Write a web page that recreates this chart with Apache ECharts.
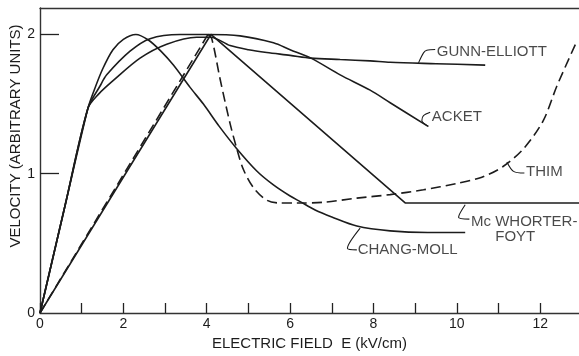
<!DOCTYPE html>
<html><head><meta charset="utf-8">
<script src="https://cdn.jsdelivr.net/npm/echarts@6/dist/echarts.min.js"></script>
<style>html,body{margin:0;padding:0;background:#fff}#c{width:579px;height:356px}</style>
</head><body><div id="c"></div>
<script>
// ---- axis ticks ----
const xTicks = [0,1,2,3,4,5,6,7,8,9,10,11,12];
const xTickLabels = [0,2,4,6,8,10,12];
const yTicks = [1,2];
const yTickLabels = [0,1,2];

// ---- curves: [E (kV/cm), velocity (arb. units)] ----
const changMoll = [[0,0],[0.6,0.77],[1.15,1.47],[1.3,1.6],[1.5,1.75],[1.75,1.89],[2.0,1.965],[2.3,2.0],[2.6,1.96],[2.9,1.88],[3.2,1.78],[3.6,1.62],[3.92,1.5],[4.3,1.34],[4.72,1.18],[5.2,1.02],[5.6,0.92],[6.0,0.84],[6.24,0.8],[6.6,0.74],[7.0,0.69],[7.6,0.625],[8.4,0.59],[9.3,0.578],[10.2,0.578]];
const gunnElliott = [[0,0],[0.6,0.77],[1.15,1.47],[1.4,1.57],[1.76,1.67],[2.4,1.83],[3.04,1.93],[3.76,1.98],[4.1,1.98],[4.56,1.92],[5.0,1.89],[5.44,1.87],[6.0,1.85],[6.5,1.83],[7.2,1.82],[7.92,1.81],[8.4,1.8],[9.5,1.79],[10.68,1.78]];
const acket = [[0,0],[0.6,0.77],[1.15,1.47],[1.44,1.63],[1.6,1.71],[2.16,1.88],[2.64,1.97],[3.36,2.0],[4.0,2.0],[4.8,1.99],[5.6,1.94],[6.0,1.89],[6.5,1.83],[7.2,1.71],[7.92,1.6],[8.4,1.51],[9.31,1.34]];
const thimRise = [[0,0],[4.03,2.0]];
const thimFall = [[4.03,2.0],[4.12,1.97],[4.32,1.68],[4.56,1.36],[4.72,1.18],[4.88,1.03],[5.12,0.9],[5.44,0.81],[5.76,0.79],[6.16,0.79],[6.8,0.795],[7.6,0.825],[8.4,0.85],[9.2,0.885],[10.0,0.93],[10.6,0.975],[11.1,1.05],[11.6,1.18],[12.07,1.38],[12.4,1.63],[12.86,1.94]];
const mcWhorterFoyt = [[0,0],[4.1,2.0],[8.76,0.79],[12.93,0.79]];

// ---- curve labels and leader lines ----
const labelTexts = ['GUNN-ELLIOTT','ACKET','THIM','Mc WHORTER-','FOYT','CHANG-MOLL'];
const labelAnchors = [[9.52,1.875],[9.4,1.405],[11.66,1.012],[10.34,0.655],[11.4,0.547],[7.62,0.453]];
const labelCentered = [false,false,false,false,true,false];
const leaderGE = [[9.08,1.796],[9.2,1.868],[9.28,1.887],[9.48,1.892]];
const leaderAcket = [[9.32,1.34],[9.16,1.383],[9.2,1.417],[9.36,1.441]];
const leaderThim = [[11.2,1.085],[11.36,1.017],[11.62,1.005]];
const leaderMcW = [[10.2,0.777],[10.04,0.688],[10.3,0.674]];
const leaderCM = [[7.68,0.609],[7.375,0.465],[7.6,0.453]];

const INK = '#1c1c1c';
const FONT = 'Liberation Sans, Arial, sans-serif';

function curve(name, data, smooth, dashed) {
  return {
    type: 'line', name: name, data: data, smooth: smooth, showSymbol: false, symbol: 'none',
    lineStyle: { color: INK, width: 1.6, type: dashed ? [10, 5] : 'solid' },
    silent: true, z: 3
  };
}
function leader(data) {
  return {
    type: 'line', data: data, smooth: 0.3, showSymbol: false, symbol: 'none',
    lineStyle: { color: INK, width: 1.1 }, silent: true, z: 3
  };
}

const labelData = labelTexts.map((t, i) => ({
  name: t, value: labelAnchors[i],
  label: labelCentered[i] ? { position: 'inside', align: 'center', verticalAlign: 'middle' }
                          : { position: 'right', distance: 0 }
}));

const chart = echarts.init(document.getElementById('c'), null, { renderer: 'canvas' });
chart.setOption({
  animation: false,
  backgroundColor: '#fff',
  grid: { left: 40, right: 0, top: 8, bottom: 43, containLabel: false },
  xAxis: [{
    type: 'value', min: 0, max: 12.93, position: 'bottom',
    name: 'ELECTRIC FIELD  E (kV/cm)', nameLocation: 'middle', nameGap: 22,
    nameTextStyle: { fontFamily: FONT, fontSize: 15, color: INK },
    axisLine: { show: true, lineStyle: { color: '#333', width: 1.4 } },
    axisTick: { show: true, inside: true, length: 10, customValues: xTicks, lineStyle: { color: '#222', width: 1.3 } },
    axisLabel: { show: true, customValues: xTickLabels, fontFamily: FONT, fontSize: 14, color: INK, margin: 4 },
    splitLine: { show: false }
  }, {
    type: 'value', min: 0, max: 12.93, position: 'top',
    axisLine: { show: true, lineStyle: { color: '#333', width: 1.4 } },
    axisTick: { show: false }, axisLabel: { show: false }, splitLine: { show: false }
  }],
  yAxis: [{
    type: 'value', min: 0, max: 2.19,
    axisLine: { show: true, lineStyle: { color: '#333', width: 1.4 } },
    axisTick: { show: true, inside: true, length: 19, customValues: yTicks, lineStyle: { color: '#222', width: 1.3 } },
    axisLabel: { show: true, customValues: yTickLabels, fontFamily: FONT, fontSize: 14, color: INK, margin: 5 },
    splitLine: { show: false }
  }],
  graphic: [{
    type: 'text', x: 16, y: 136, rotation: Math.PI / 2,
    style: { text: 'VELOCITY (ARBITRARY UNITS)', fontFamily: FONT, fontSize: 15, fill: INK,
             align: 'center', verticalAlign: 'middle' }
  }],
  series: [
    curve('CHANG-MOLL', changMoll, 0.3, false),
    curve('GUNN-ELLIOTT', gunnElliott, 0.3, false),
    curve('ACKET', acket, 0.3, false),
    curve('THIM', thimRise, false, true),
    curve('THIM', thimFall, 0.3, true),
    curve('Mc WHORTER-FOYT', mcWhorterFoyt, false, false),
    leader(leaderGE), leader(leaderAcket), leader(leaderThim), leader(leaderMcW), leader(leaderCM),
    {
      type: 'scatter', data: labelData, symbolSize: 0, silent: true, z: 4,
      label: { show: true, formatter: p => p.name, fontFamily: FONT, fontSize: 15, color: INK }
    }
  ]
});
</script></body></html>
